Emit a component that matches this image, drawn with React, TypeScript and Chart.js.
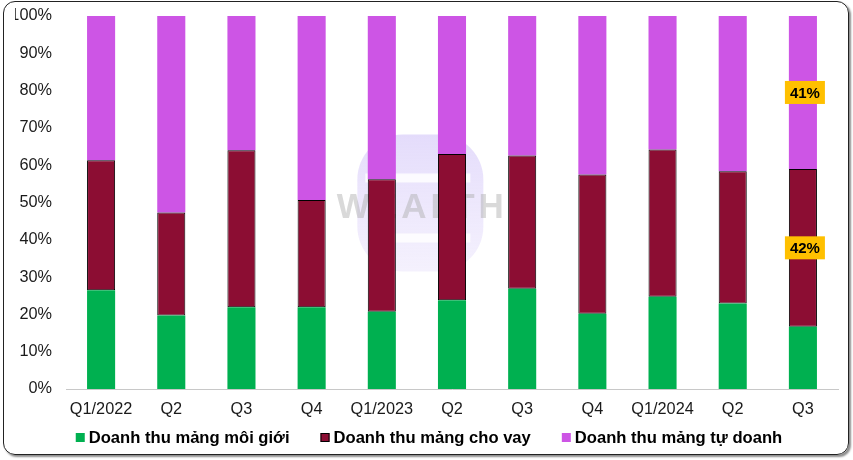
import React, { useEffect, useRef } from "react";
import { Chart, registerables } from "chart.js";

Chart.register(...registerables);

const categories = ["Q1/2022", "Q2", "Q3", "Q4", "Q1/2023", "Q2", "Q3", "Q4", "Q1/2024", "Q2", "Q3"];
const moiGioi = [26.5, 19.7, 21.9, 21.9, 20.7, 23.8, 26.9, 20.2, 24.7, 22.9, 16.7];
const choVay = [34.8, 27.6, 42.1, 28.8, 35.5, 39.2, 35.7, 37.3, 39.5, 35.5, 42.3];
const tuDoanh = [38.7, 52.7, 36.0, 49.3, 43.8, 37.0, 37.4, 42.5, 35.8, 41.6, 41.0];
const seriesNames = ["Doanh thu mảng môi giới", "Doanh thu mảng cho vay", "Doanh thu mảng tự doanh"];
const seriesColors = ["#00B050", "#8C0D33", "#CD55E5"];
const labelPoints = [
  { dataset: 1, index: 10, text: "42%" },
  { dataset: 2, index: 10, text: "41%" },
];

const FONT = "Arial, 'Liberation Sans', sans-serif";

const watermarkPlugin = {
  id: "watermark",
  beforeDatasetsDraw(chart: any) {
    const ctx = chart.ctx;
    const { left, right, top, bottom } = chart.chartArea;
    const cx = left + (right - left) * 0.459;
    const cy = top + (bottom - top) * 0.5;
    ctx.save();
    const g = ctx.createLinearGradient(cx, cy - 70, cx, cy + 70);
    g.addColorStop(0, "rgba(205,190,248,0.55)");
    g.addColorStop(1, "rgba(225,215,250,0.35)");
    ctx.fillStyle = g;
    ctx.beginPath();
    (ctx as any).roundRect(cx - 63, cy - 68, 126, 137, 45);
    ctx.fill();
    ctx.fillStyle = "rgba(255,255,255,0.85)";
    ctx.fillRect(cx - 55, cy - 29, 105, 9);
    ctx.fillRect(cx - 50, cy + 31, 100, 9);
    ctx.font = `bold 35px ${FONT}`;
    (ctx as any).letterSpacing = "4px";
    ctx.textAlign = "center";
    ctx.textBaseline = "alphabetic";
    ctx.fillStyle = "rgba(170,170,170,0.45)";
    ctx.fillText("WEALTH", cx + 2, cy + 15);
    ctx.restore();
  },
};

const labelPlugin = {
  id: "boxLabels",
  afterDatasetsDraw(chart: any) {
    const ctx = chart.ctx;
    ctx.save();
    ctx.font = `bold 15px ${FONT}`;
    ctx.textAlign = "center";
    ctx.textBaseline = "middle";
    labelPoints.forEach((p) => {
      const el = chart.getDatasetMeta(p.dataset).data[p.index];
      if (!el) return;
      const x = el.x + 2;
      const y = (el.y + el.base) / 2;
      const w = 40;
      const h = 23;
      ctx.fillStyle = "#FFC000";
      ctx.fillRect(x - w / 2, y - h / 2, w, h);
      ctx.fillStyle = "#000";
      ctx.fillText(p.text, x, y + 1);
    });
    ctx.restore();
  },
};

const legendPlugin = {
  id: "customLegend",
  afterDraw(chart: any) {
    const ctx = chart.ctx;
    ctx.save();
    ctx.font = `bold 16.6px ${FONT}`;
    ctx.textBaseline = "alphabetic";
    ctx.textAlign = "left";
    const box = 9;
    const gapText = 4;
    const gapItem = 31;
    const widths = seriesNames.map((s) => ctx.measureText(s).width);
    const total = widths.reduce((a, w) => a + box + gapText + w, 0) + gapItem * (seriesNames.length - 1);
    let x = 429 - total / 2;
    const baseline = 442.5;
    seriesNames.forEach((s, i) => {
      ctx.fillStyle = seriesColors[i];
      ctx.fillRect(x, 433, box, box);
      if (i === 1) {
        ctx.strokeStyle = "#000";
        ctx.lineWidth = 1;
        ctx.strokeRect(x + 0.5, 433.5, box - 1, box - 1);
      }
      x += box + gapText;
      ctx.fillStyle = "#000";
      ctx.fillText(s, x, baseline);
      x += widths[i] + gapItem;
    });
    ctx.restore();
  },
};

export default function App() {
  const ref = useRef<HTMLCanvasElement>(null);
  useEffect(() => {
    if (!ref.current) return;
    const chart = new Chart(ref.current, {
      type: "bar",
      data: {
        labels: categories,
        datasets: [
          { label: seriesNames[0], data: moiGioi, backgroundColor: seriesColors[0], borderWidth: 0 },
          {
            label: seriesNames[1],
            data: choVay,
            backgroundColor: seriesColors[1],
            borderColor: "#000000",
            borderWidth: 1,
            borderSkipped: false,
          },
          { label: seriesNames[2], data: tuDoanh, backgroundColor: seriesColors[2], borderWidth: 0 },
        ],
      },
      options: {
        responsive: false,
        animation: false,
        events: [],
        datasets: { bar: { categoryPercentage: 1, barPercentage: 0.4 } },
        layout: { padding: { left: 15, right: 15, top: 16, bottom: 41 } },
        scales: {
          x: {
            stacked: true,
            afterFit(scale: any) {
              scale.height = 30;
            },
            grid: { display: false, drawTicks: false },
            border: { display: true, color: "#C8C8C8", width: 1 },
            ticks: { color: "#1a1a1a", font: { family: FONT, size: 16.3 }, padding: 11, maxRotation: 0, autoSkip: false },
          },
          y: {
            stacked: true,
            min: 0,
            max: 100,
            afterFit(scale: any) {
              scale.width = 51;
              scale.paddingTop = 8;
              scale.paddingBottom = 8;
            },
            grid: { display: false, drawTicks: false },
            border: { display: false },
            ticks: {
              stepSize: 10,
              color: "#1a1a1a",
              font: { family: FONT, size: 16.3 },
              padding: 14,
              callback: (v: any) => `${v}%`,
            },
          },
        },
        plugins: {
          legend: { display: false },
          tooltip: { enabled: false },
        },
      },
      plugins: [watermarkPlugin, labelPlugin, legendPlugin],
    });
    return () => chart.destroy();
  }, []);

  return (
    <div style={{ position: "fixed", left: 0, top: 0, width: 853, height: 460, background: "#fff" }}>
      <div
        style={{
          position: "absolute",
          left: 3,
          top: 1,
          width: 846,
          height: 454,
          border: "1px solid #222",
          borderRadius: 12,
          boxShadow: "2px 2px 2px rgba(0,0,0,0.45)",
          boxSizing: "border-box",
        }}
      />
      <canvas ref={ref} width={853} height={460} style={{ position: "absolute", left: 0, top: 0 }} />
    </div>
  );
}
